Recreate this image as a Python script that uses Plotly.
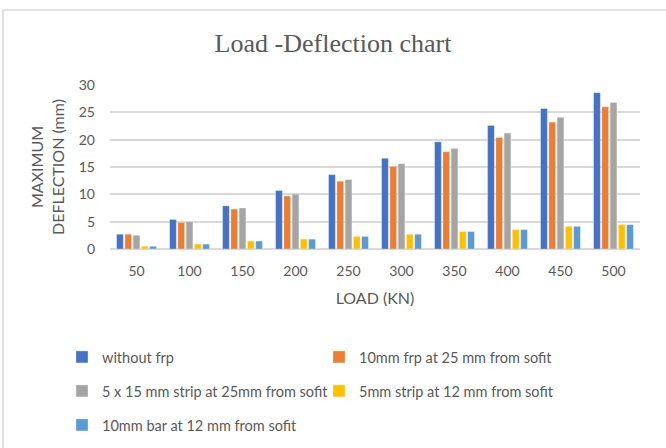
import plotly.graph_objects as go

loads = ["50", "100", "150", "200", "250", "300", "350", "400", "450", "500"]
without_frp = [2.7, 5.4, 7.9, 10.7, 13.6, 16.6, 19.6, 22.6, 25.7, 28.6]
frp_10mm_25 = [2.7, 4.85, 7.3, 9.7, 12.4, 15.1, 17.8, 20.4, 23.2, 26.0]
strip_5x15_25 = [2.5, 5.0, 7.5, 10.05, 12.7, 15.6, 18.4, 21.2, 24.1, 26.8]
strip_5mm_12 = [0.5, 0.9, 1.45, 1.8, 2.3, 2.7, 3.2, 3.55, 4.15, 4.45]
bar_10mm_12 = [0.5, 0.9, 1.45, 1.8, 2.3, 2.7, 3.2, 3.55, 4.15, 4.45]

series = [
    ("without frp", without_frp, "#4472C4", "legend"),
    ("10mm frp at 25 mm from sofit", frp_10mm_25, "#ED7D31", "legend"),
    ("5 x 15 mm strip at 25mm from sofit", strip_5x15_25, "#A5A5A5", "legend2"),
    ("5mm strip at 12 mm from sofit", strip_5mm_12, "#FFC000", "legend2"),
    ("10mm bar at 12 mm from sofit", bar_10mm_12, "#5B9BD5", "legend3"),
]

FONT = "Lato, 'Open Sans', sans-serif"
GREY = "#595959"

fig = go.Figure()
for name, vals, color, lg in series:
    fig.add_trace(go.Bar(
        x=loads, y=vals, name=name, legend=lg,
        marker=dict(color=color, line=dict(color="rgba(255,255,255,0.6)", width=0.5)),
    ))

W, H = 666, 448
L, R, T, B = 110, 26, 85, 199

legend_common = dict(
    orientation="h", xref="container", yref="container",
    xanchor="left", yanchor="middle",
    font=dict(family=FONT, size=14.5, color=GREY),
    entrywidth=212, entrywidthmode="pixels",
    itemwidth=30, bgcolor="rgba(0,0,0,0)",
)
LX = 62 / W

fig.update_layout(
    width=W, height=H,
    margin=dict(l=L, r=R, t=T, b=B),
    paper_bgcolor="white", plot_bgcolor="white",
    barmode="group", bargap=0.22, bargroupgap=0.18,
    title=dict(text="Load -Deflection chart", x=0.5, xanchor="center",
               y=1 - 43 / H, yanchor="middle", xref="container", yref="container",
               font=dict(family="'Liberation Serif', serif", size=26, color=GREY)),
    font=dict(family=FONT, color=GREY),
    xaxis=dict(
        showgrid=False, showline=False, zeroline=False,
        tickfont=dict(family=FONT, size=14, color=GREY),
        ticklabelstandoff=12,
        title=dict(text="LOAD (KN)", font=dict(family=FONT, size=16, color=GREY), standoff=14),
    ),
    yaxis=dict(
        range=[0, 30], dtick=5, showgrid=True, gridcolor="#D9D9D9", gridwidth=2,
        zeroline=True, zerolinecolor="#D9D9D9", zerolinewidth=2, showline=False,
        tickfont=dict(family=FONT, size=14, color=GREY),
        ticklabelstandoff=14,
        title=dict(text="MAXIMUM<br>DEFLECTION (mm)", font=dict(family=FONT, size=16, color=GREY), standoff=10),
    ),
    legend=dict(**legend_common, x=LX, y=1 - 357 / H),
    legend2=dict(**legend_common, x=LX, y=1 - 391 / H),
    legend3=dict(**legend_common, x=LX, y=1 - 425 / H),
    shapes=[dict(type="rect", xref="paper", yref="paper",
                 x0=(3 - L) / (W - L - R), x1=(669 - L) / (W - L - R),
                 y0=(H - B - 451) / (H - T - B), y1=(H - B - 10) / (H - T - B),
                 line=dict(color="#D9D9D9", width=1.5), layer="below")],
)

fig.write_html("out.html")
